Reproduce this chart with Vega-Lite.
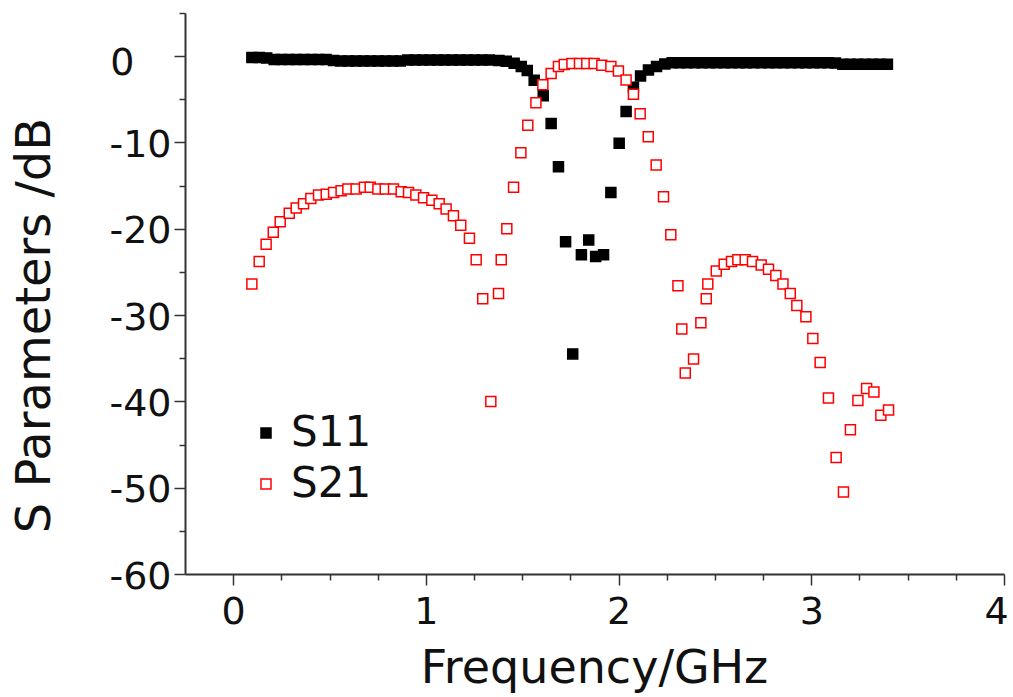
{
  "$schema": "https://vega.github.io/schema/vega-lite/v6.json",
  "autosize": {"type": "none"},
  "padding": {"left": 185, "top": 13, "right": 9, "bottom": 123},
  "width": 819,
  "height": 561,
  "background": "white",
  "config": {
    "view": {"stroke": null},
    "font": "DejaVu Sans",
    "axis": {"grid": false, "domainColor": "#333", "domainWidth": 2, "tickColor": "#333", "tickWidth": 1.5, "labelColor": "#111", "titleColor": "#111", "labelFont": "DejaVu Sans", "titleFont": "DejaVu Sans", "titleFontWeight": "normal"}
  },
  "datasets": {
    "s": [
      {"series": "S11", "f": 0.097, "db": -0.15},
      {"series": "S11", "f": 0.136, "db": -0.15},
      {"series": "S11", "f": 0.174, "db": -0.2},
      {"series": "S11", "f": 0.213, "db": -0.4},
      {"series": "S11", "f": 0.251, "db": -0.4},
      {"series": "S11", "f": 0.290, "db": -0.4},
      {"series": "S11", "f": 0.328, "db": -0.4},
      {"series": "S11", "f": 0.367, "db": -0.4},
      {"series": "S11", "f": 0.405, "db": -0.4},
      {"series": "S11", "f": 0.444, "db": -0.4},
      {"series": "S11", "f": 0.482, "db": -0.4},
      {"series": "S11", "f": 0.521, "db": -0.5},
      {"series": "S11", "f": 0.559, "db": -0.55},
      {"series": "S11", "f": 0.598, "db": -0.55},
      {"series": "S11", "f": 0.636, "db": -0.55},
      {"series": "S11", "f": 0.675, "db": -0.55},
      {"series": "S11", "f": 0.713, "db": -0.55},
      {"series": "S11", "f": 0.752, "db": -0.55},
      {"series": "S11", "f": 0.790, "db": -0.55},
      {"series": "S11", "f": 0.829, "db": -0.55},
      {"series": "S11", "f": 0.867, "db": -0.55},
      {"series": "S11", "f": 0.906, "db": -0.45},
      {"series": "S11", "f": 0.944, "db": -0.45},
      {"series": "S11", "f": 0.983, "db": -0.45},
      {"series": "S11", "f": 1.021, "db": -0.45},
      {"series": "S11", "f": 1.060, "db": -0.45},
      {"series": "S11", "f": 1.098, "db": -0.45},
      {"series": "S11", "f": 1.137, "db": -0.45},
      {"series": "S11", "f": 1.175, "db": -0.45},
      {"series": "S11", "f": 1.214, "db": -0.45},
      {"series": "S11", "f": 1.252, "db": -0.45},
      {"series": "S11", "f": 1.291, "db": -0.45},
      {"series": "S11", "f": 1.329, "db": -0.45},
      {"series": "S11", "f": 1.379, "db": -0.5},
      {"series": "S11", "f": 1.417, "db": -0.58},
      {"series": "S11", "f": 1.458, "db": -0.81},
      {"series": "S11", "f": 1.495, "db": -1.19},
      {"series": "S11", "f": 1.526, "db": -1.65},
      {"series": "S11", "f": 1.562, "db": -2.8},
      {"series": "S11", "f": 1.609, "db": -4.6},
      {"series": "S11", "f": 1.650, "db": -7.8},
      {"series": "S11", "f": 1.688, "db": -12.8},
      {"series": "S11", "f": 1.725, "db": -21.5},
      {"series": "S11", "f": 1.762, "db": -34.5},
      {"series": "S11", "f": 1.807, "db": -23.0},
      {"series": "S11", "f": 1.845, "db": -21.3},
      {"series": "S11", "f": 1.881, "db": -23.2},
      {"series": "S11", "f": 1.922, "db": -23.0},
      {"series": "S11", "f": 1.960, "db": -15.8},
      {"series": "S11", "f": 2.003, "db": -10.1},
      {"series": "S11", "f": 2.039, "db": -6.4},
      {"series": "S11", "f": 2.077, "db": -3.6},
      {"series": "S11", "f": 2.114, "db": -2.3},
      {"series": "S11", "f": 2.155, "db": -1.6},
      {"series": "S11", "f": 2.197, "db": -1.2},
      {"series": "S11", "f": 2.240, "db": -0.9},
      {"series": "S11", "f": 2.278, "db": -0.75},
      {"series": "S11", "f": 2.317, "db": -0.75},
      {"series": "S11", "f": 2.355, "db": -0.75},
      {"series": "S11", "f": 2.394, "db": -0.75},
      {"series": "S11", "f": 2.432, "db": -0.75},
      {"series": "S11", "f": 2.471, "db": -0.75},
      {"series": "S11", "f": 2.509, "db": -0.75},
      {"series": "S11", "f": 2.548, "db": -0.75},
      {"series": "S11", "f": 2.586, "db": -0.75},
      {"series": "S11", "f": 2.625, "db": -0.75},
      {"series": "S11", "f": 2.663, "db": -0.75},
      {"series": "S11", "f": 2.702, "db": -0.75},
      {"series": "S11", "f": 2.740, "db": -0.75},
      {"series": "S11", "f": 2.779, "db": -0.75},
      {"series": "S11", "f": 2.817, "db": -0.75},
      {"series": "S11", "f": 2.856, "db": -0.75},
      {"series": "S11", "f": 2.894, "db": -0.75},
      {"series": "S11", "f": 2.933, "db": -0.75},
      {"series": "S11", "f": 2.971, "db": -0.75},
      {"series": "S11", "f": 3.010, "db": -0.75},
      {"series": "S11", "f": 3.048, "db": -0.75},
      {"series": "S11", "f": 3.087, "db": -0.75},
      {"series": "S11", "f": 3.125, "db": -0.8},
      {"series": "S11", "f": 3.164, "db": -0.95},
      {"series": "S11", "f": 3.202, "db": -0.95},
      {"series": "S11", "f": 3.241, "db": -0.95},
      {"series": "S11", "f": 3.279, "db": -0.95},
      {"series": "S11", "f": 3.318, "db": -0.95},
      {"series": "S11", "f": 3.356, "db": -0.95},
      {"series": "S11", "f": 3.395, "db": -0.95},
      {"series": "S21", "f": 0.097, "db": -26.4},
      {"series": "S21", "f": 0.135, "db": -23.8},
      {"series": "S21", "f": 0.171, "db": -21.8},
      {"series": "S21", "f": 0.208, "db": -20.4},
      {"series": "S21", "f": 0.244, "db": -19.2},
      {"series": "S21", "f": 0.291, "db": -18.2},
      {"series": "S21", "f": 0.327, "db": -17.6},
      {"series": "S21", "f": 0.365, "db": -17.1},
      {"series": "S21", "f": 0.403, "db": -16.5},
      {"series": "S21", "f": 0.443, "db": -16.1},
      {"series": "S21", "f": 0.483, "db": -16.0},
      {"series": "S21", "f": 0.521, "db": -15.8},
      {"series": "S21", "f": 0.560, "db": -15.6},
      {"series": "S21", "f": 0.595, "db": -15.4},
      {"series": "S21", "f": 0.638, "db": -15.4},
      {"series": "S21", "f": 0.681, "db": -15.2},
      {"series": "S21", "f": 0.711, "db": -15.2},
      {"series": "S21", "f": 0.751, "db": -15.4},
      {"series": "S21", "f": 0.789, "db": -15.4},
      {"series": "S21", "f": 0.832, "db": -15.4},
      {"series": "S21", "f": 0.872, "db": -15.7},
      {"series": "S21", "f": 0.910, "db": -15.8},
      {"series": "S21", "f": 0.948, "db": -16.1},
      {"series": "S21", "f": 0.988, "db": -16.4},
      {"series": "S21", "f": 1.031, "db": -16.7},
      {"series": "S21", "f": 1.069, "db": -17.1},
      {"series": "S21", "f": 1.105, "db": -17.7},
      {"series": "S21", "f": 1.143, "db": -18.5},
      {"series": "S21", "f": 1.181, "db": -19.6},
      {"series": "S21", "f": 1.226, "db": -21.1},
      {"series": "S21", "f": 1.261, "db": -23.6},
      {"series": "S21", "f": 1.295, "db": -28.1},
      {"series": "S21", "f": 1.337, "db": -40.0},
      {"series": "S21", "f": 1.377, "db": -27.5},
      {"series": "S21", "f": 1.391, "db": -23.6},
      {"series": "S21", "f": 1.420, "db": -20.0},
      {"series": "S21", "f": 1.455, "db": -15.2},
      {"series": "S21", "f": 1.493, "db": -11.2},
      {"series": "S21", "f": 1.529, "db": -8.0},
      {"series": "S21", "f": 1.571, "db": -5.4},
      {"series": "S21", "f": 1.607, "db": -3.3},
      {"series": "S21", "f": 1.650, "db": -2.0},
      {"series": "S21", "f": 1.688, "db": -1.2},
      {"series": "S21", "f": 1.718, "db": -0.96},
      {"series": "S21", "f": 1.758, "db": -0.84},
      {"series": "S21", "f": 1.797, "db": -0.84},
      {"series": "S21", "f": 1.835, "db": -0.84},
      {"series": "S21", "f": 1.873, "db": -0.84},
      {"series": "S21", "f": 1.913, "db": -1.04},
      {"series": "S21", "f": 1.960, "db": -1.19},
      {"series": "S21", "f": 1.999, "db": -1.73},
      {"series": "S21", "f": 2.039, "db": -2.77},
      {"series": "S21", "f": 2.077, "db": -4.42},
      {"series": "S21", "f": 2.112, "db": -6.66},
      {"series": "S21", "f": 2.154, "db": -9.35},
      {"series": "S21", "f": 2.195, "db": -12.6},
      {"series": "S21", "f": 2.233, "db": -16.3},
      {"series": "S21", "f": 2.271, "db": -20.7},
      {"series": "S21", "f": 2.308, "db": -26.6},
      {"series": "S21", "f": 2.328, "db": -31.6},
      {"series": "S21", "f": 2.346, "db": -36.7},
      {"series": "S21", "f": 2.389, "db": -35.1},
      {"series": "S21", "f": 2.427, "db": -30.9},
      {"series": "S21", "f": 2.455, "db": -28.1},
      {"series": "S21", "f": 2.463, "db": -26.4},
      {"series": "S21", "f": 2.507, "db": -24.9},
      {"series": "S21", "f": 2.548, "db": -24.1},
      {"series": "S21", "f": 2.586, "db": -23.8},
      {"series": "S21", "f": 2.619, "db": -23.6},
      {"series": "S21", "f": 2.657, "db": -23.6},
      {"series": "S21", "f": 2.695, "db": -23.8},
      {"series": "S21", "f": 2.740, "db": -24.2},
      {"series": "S21", "f": 2.778, "db": -24.7},
      {"series": "S21", "f": 2.816, "db": -25.4},
      {"series": "S21", "f": 2.853, "db": -26.4},
      {"series": "S21", "f": 2.891, "db": -27.5},
      {"series": "S21", "f": 2.925, "db": -28.9},
      {"series": "S21", "f": 2.972, "db": -30.2},
      {"series": "S21", "f": 3.008, "db": -32.7},
      {"series": "S21", "f": 3.046, "db": -35.5},
      {"series": "S21", "f": 3.089, "db": -39.6},
      {"series": "S21", "f": 3.129, "db": -46.5},
      {"series": "S21", "f": 3.167, "db": -50.5},
      {"series": "S21", "f": 3.203, "db": -43.3},
      {"series": "S21", "f": 3.242, "db": -39.9},
      {"series": "S21", "f": 3.287, "db": -38.5},
      {"series": "S21", "f": 3.325, "db": -38.9},
      {"series": "S21", "f": 3.361, "db": -41.6},
      {"series": "S21", "f": 3.401, "db": -41.0}
    ]
  },
  "data": {"name": "s"},
  "mark": {"type": "point", "shape": "square", "size": 100, "strokeWidth": 1.5, "opacity": 1, "filled": false},
  "encoding": {
    "x": {
      "field": "f", "type": "quantitative",
      "scale": {"domain": [-0.25, 4], "nice": false, "zero": false},
      "axis": {
        "title": "Frequency/GHz",
        "values": [0, 0.25, 0.5, 0.75, 1, 1.25, 1.5, 1.75, 2, 2.25, 2.5, 2.75, 3, 3.25, 3.5, 3.75, 4],
        "labelExpr": "datum.value % 1 === 0 ? toString(datum.value) : ''",
        "tickSize": {"condition": {"test": "datum.value % 1 === 0", "value": 11}, "value": 6},
        "labelFontSize": 38,
        "labelPadding": 8,
        "labelOffset": {"condition": {"test": "datum.value === 4", "value": -8}, "value": 0},
        "labelFlush": false,
        "labelOverlap": false,
        "titleFontSize": 46,
        "titleX": 409,
        "titleY": 108,
        "titleBaseline": "alphabetic"
      }
    },
    "y": {
      "field": "db", "type": "quantitative",
      "scale": {"domain": [-60, 5], "nice": false, "zero": false},
      "axis": {
        "title": "S Parameters /dB",
        "values": [-60, -55, -50, -45, -40, -35, -30, -25, -20, -15, -10, -5, 0, 5],
        "labelExpr": "datum.value % 10 === 0 ? toString(datum.value) : ''",
        "tickSize": {"condition": {"test": "datum.value % 10 === 0", "value": 11}, "value": 6},
        "labelFontSize": 38,
        "labelPadding": {"condition": {"test": "datum.value === 0", "value": 40}, "value": 3},
        "labelOffset": {"condition": {"test": "datum.value === 0", "value": 7}, "value": 3},
        "labelOverlap": false,
        "labelFlush": false,
        "titleFontSize": 48,
        "titleX": -150,
        "titleY": 312,
        "titleBaseline": "middle",
        "titleAlign": "center",
        "titleAngle": -90
      }
    },
    "stroke": {
      "field": "series", "type": "nominal",
      "scale": {"domain": ["S11", "S21"], "range": ["#000000", "#ff0000"]},
      "legend": {"title": null, "orient": "none", "legendX": 60, "legendY": 399, "labelFontSize": 42, "labelFont": "DejaVu Sans", "labelColor": "#111", "symbolSize": 100, "symbolStrokeWidth": 1.5, "symbolType": "square", "labelOffset": 4, "rowPadding": 9, "padding": 0}
    },
    "fill": {
      "field": "series", "type": "nominal",
      "scale": {"domain": ["S11", "S21"], "range": ["#000000", "#ffffff"]},
      "legend": {"title": null, "orient": "none", "legendX": 60, "legendY": 399, "labelFontSize": 42, "labelFont": "DejaVu Sans", "labelColor": "#111", "symbolSize": 100, "symbolStrokeWidth": 1.5, "symbolType": "square", "labelOffset": 4, "rowPadding": 9, "padding": 0}
    }
  }
}
